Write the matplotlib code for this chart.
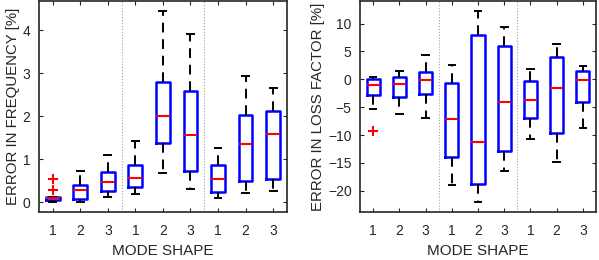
import matplotlib
matplotlib.use("Agg")
import matplotlib.pyplot as plt

plt.rcParams['font.family'] = ['Liberation Sans', 'DejaVu Sans']

# --- data (9 boxes per panel) ---
positions = [1, 2, 3, 4, 5, 6, 7, 8, 9]
tick_labels = ['1', '2', '3', '1', '2', '3', '1', '2', '3']

# error in frequency [%]
freq_med = [0.09, 0.29, 0.47, 0.56, 2.00, 1.57, 0.54, 1.35, 1.58]
freq_q1 = [0.04, 0.08, 0.25, 0.34, 1.37, 0.72, 0.24, 0.49, 0.54]
freq_q3 = [0.12, 0.39, 0.71, 0.87, 2.80, 2.60, 0.86, 2.04, 2.12]
freq_lo = [0.01, 0.00, 0.12, 0.19, 0.67, 0.31, 0.09, 0.22, 0.25]
freq_hi = [0.12, 0.73, 1.10, 1.43, 4.46, 3.92, 1.27, 2.94, 2.65]
freq_out = [[0.27, 0.53], [], [], [], [], [], [], [], []]

# error in loss factor [%]
loss_med = [-1.04, -0.91, -0.14, -7.17, -11.29, -4.02, -3.72, -1.52, -0.14]
loss_q1 = [-2.77, -3.18, -2.70, -13.97, -18.75, -12.90, -6.94, -9.68, -4.13]
loss_q3 = [0.05, 0.39, 1.29, -0.73, 7.96, 5.94, -0.38, 4.02, 1.52]
loss_lo = [-5.28, -6.17, -6.94, -18.93, -22.10, -16.50, -10.80, -14.76, -8.78]
loss_hi = [0.34, 1.41, 4.38, 2.54, 12.30, 9.34, 1.88, 6.42, 2.42]
loss_out = [[-9.25], [], [], [], [], [], [], [], []]

txt = '#262626'


def make_stats(med, q1, q3, lo, hi, out):
    return [dict(med=m, q1=a, q3=b, whislo=l, whishi=h, fliers=f)
            for m, a, b, l, h, f in zip(med, q1, q3, lo, hi, out)]


def draw(ax, stats, ylim, yticks, ylabel):
    ax.bxp(stats, positions=positions, widths=0.5, patch_artist=False,
           boxprops=dict(color='#0000ff', linewidth=1.8),
           medianprops=dict(color='#ff0000', linewidth=1.5),
           whiskerprops=dict(color='black', linewidth=1.4, linestyle=(0, (5, 3.5))),
           capprops=dict(color='black', linewidth=1.4),
           capwidths=0.25,
           flierprops=dict(marker='+', markeredgecolor='#ff0000', markersize=7,
                           markeredgewidth=1.5, linestyle='none'))
    for xv in (3.5, 6.5):
        ax.axvline(xv, color='#a0a0a0', linestyle=':', linewidth=0.8, zorder=0)
    ax.set_xlim(0.5, 9.5)
    ax.set_ylim(*ylim)
    ax.set_yticks(yticks)
    ax.set_xticks(positions)
    ax.set_xticklabels(tick_labels)
    ax.tick_params(direction='in', top=True, right=True, length=3, width=0.8,
                   colors=txt, labelsize=10)
    ax.tick_params(axis='x', pad=9)
    ax.tick_params(axis='y', pad=6)
    for s in ax.spines.values():
        s.set_color(txt)
        s.set_linewidth(1.2)
    ax.set_xlabel('MODE SHAPE', fontsize=11, color=txt, labelpad=4)
    ax.set_ylabel(ylabel, fontsize=10.8, color=txt, labelpad=2)


fig = plt.figure(figsize=(5.99, 2.6), dpi=100)
ax1 = fig.add_axes([0.065, 0.185, 0.414, 0.81])
ax2 = fig.add_axes([0.601, 0.185, 0.394, 0.81])

draw(ax1, make_stats(freq_med, freq_q1, freq_q3, freq_lo, freq_hi, freq_out),
     (-0.23, 4.68), [0, 1, 2, 3, 4], 'ERROR IN FREQUENCY [%]')
draw(ax2, make_stats(loss_med, loss_q1, loss_q3, loss_lo, loss_hi, loss_out),
     (-23.8, 14.0), [-20, -15, -10, -5, 0, 5, 10], 'ERROR IN LOSS FACTOR [%]')

fig.savefig('out.png', dpi=100)
